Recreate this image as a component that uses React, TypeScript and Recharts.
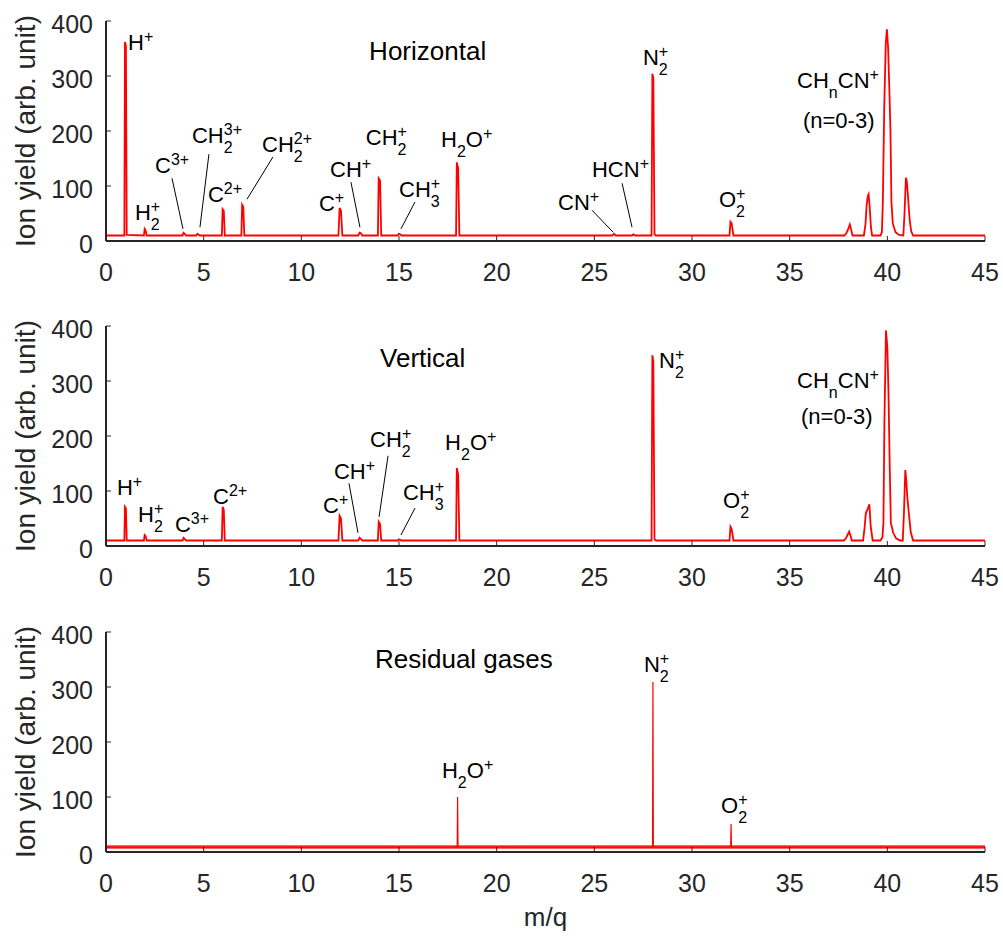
import React from 'react'
import { LineChart, Line, XAxis, YAxis, ReferenceDot, ReferenceLine } from 'recharts'

// m/q axis and ion-yield axis ticks
const xTicks = [0, 5, 10, 15, 20, 25, 30, 35, 40, 45]
const yTicks = [0, 100, 200, 300, 400]

// [m/q, ion yield]
const horizontalSpectrum: [number, number][] = [
  [0, 10], [0.94, 10], [0.97, 362], [1.02, 355], [1.06, 11], [1.94, 10], [1.98, 22], [2.03, 19], [2.08, 10],
  [3.92, 10], [3.97, 15], [4.03, 13], [4.1, 10], [4.62, 10], [4.68, 13], [4.75, 11], [4.82, 10],
  [5.93, 10], [5.97, 58], [6.03, 55], [6.08, 10], [6.93, 10], [6.97, 66], [7.03, 62], [7.08, 10],
  [11.9, 10], [11.96, 60], [12.03, 55], [12.1, 10], [12.92, 10], [12.98, 15], [13.05, 14], [13.12, 10],
  [13.92, 10], [13.96, 114], [14.03, 110], [14.09, 10], [14.93, 10], [14.99, 13], [15.06, 12], [15.13, 10],
  [17.92, 10], [17.96, 143], [18.03, 132], [18.09, 10], [25.92, 10], [26.0, 13], [26.1, 10],
  [26.92, 10], [27.0, 12], [27.1, 10], [27.93, 10], [27.97, 304], [28.02, 296], [28.08, 12], [28.15, 10],
  [31.92, 10], [31.97, 35], [32.03, 32], [32.12, 10],
  [37.8, 10], [37.9, 14], [38.0, 22], [38.08, 30], [38.14, 22], [38.22, 10],
  [38.8, 10], [38.88, 30], [38.94, 65], [39.0, 82], [39.04, 85], [39.1, 60], [39.16, 25], [39.22, 10],
  [39.65, 10], [39.72, 16], [39.77, 70], [39.84, 240], [39.92, 360], [39.98, 385], [40.04, 350], [40.1, 280],
  [40.16, 200], [40.21, 70], [40.28, 32], [40.42, 16], [40.6, 11],
  [40.82, 10], [40.88, 50], [40.95, 115], [41.0, 108], [41.06, 80], [41.14, 40], [41.22, 18], [41.32, 10],
  [45, 10],
]

const verticalSpectrum: [number, number][] = [
  [0, 10], [0.94, 10], [0.97, 71], [1.02, 68], [1.06, 10], [1.94, 10], [1.98, 20], [2.03, 18], [2.08, 10],
  [3.92, 10], [3.97, 15], [4.03, 13], [4.1, 10],
  [5.93, 10], [5.97, 71], [6.03, 66], [6.08, 10],
  [11.9, 10], [11.96, 55], [12.03, 50], [12.1, 10], [12.92, 10], [12.98, 15], [13.05, 13], [13.12, 10],
  [13.92, 10], [13.96, 44], [14.03, 40], [14.09, 10], [14.93, 10], [14.99, 12], [15.06, 11], [15.13, 10],
  [17.92, 10], [17.96, 142], [18.03, 130], [18.09, 10],
  [27.93, 10], [27.97, 347], [28.02, 335], [28.08, 12], [28.15, 10],
  [31.92, 10], [31.97, 35], [32.03, 31], [32.12, 10],
  [37.78, 10], [37.88, 14], [37.96, 20], [38.05, 26], [38.12, 18], [38.18, 10],
  [38.76, 10], [38.84, 35], [38.9, 60], [38.98, 66], [39.04, 72], [39.08, 76], [39.15, 35], [39.25, 10],
  [39.65, 10], [39.75, 16], [39.8, 42], [39.85, 224], [39.93, 392], [40.0, 362], [40.06, 278], [40.12, 150],
  [40.18, 42], [40.3, 24], [40.45, 14], [40.65, 10],
  [40.79, 10], [40.85, 60], [40.92, 138], [40.97, 120], [41.02, 90], [41.1, 60], [41.2, 25], [41.32, 10],
  [45, 10],
]

const residualSpectrum: [number, number][] = [
  [0, 9], [17.98, 9], [18.0, 100], [18.02, 9], [27.98, 9], [28.0, 309], [28.02, 9],
  [31.98, 9], [32.0, 51], [32.02, 9], [45, 9],
]
const residualBaseline = 9

type Part = string | { sub?: string; sup?: string }
type Note = { x: number; y: number; parts: Part[] }
type Leader = { x1: number; y1: number; x2: number; y2: number }

const horizontalNotes: Note[] = [
  { x: 1.13, y: 347, parts: ['H', { sup: '+' }] },
  { x: 1.48, y: 38, parts: ['H', { sub: '2', sup: '+' }] },
  { x: 2.51, y: 124, parts: ['C', { sup: '3+' }] },
  { x: 4.4, y: 178, parts: ['CH', { sub: '2', sup: '3+' }] },
  { x: 5.22, y: 71, parts: ['C', { sup: '2+' }] },
  { x: 7.99, y: 162, parts: ['CH', { sub: '2', sup: '2+' }] },
  { x: 10.9, y: 55, parts: ['C', { sup: '+' }] },
  { x: 11.47, y: 116, parts: ['CH', { sup: '+' }] },
  { x: 13.3, y: 175, parts: ['CH', { sub: '2', sup: '+' }] },
  { x: 15.0, y: 80, parts: ['CH', { sub: '3', sup: '+' }] },
  { x: 17.15, y: 171, parts: ['H', { sub: '2' }, 'O', { sup: '+' }] },
  { x: 23.14, y: 56, parts: ['CN', { sup: '+' }] },
  { x: 24.88, y: 116, parts: ['HCN', { sup: '+' }] },
  { x: 27.49, y: 320, parts: ['N', { sub: '2', sup: '+' }] },
  { x: 31.38, y: 62, parts: ['O', { sub: '2', sup: '+' }] },
  { x: 35.38, y: 278, parts: ['CH', { sub: 'n' }, 'CN', { sup: '+' }] },
  { x: 35.68, y: 205, parts: ['(n=0-3)'] },
]
const horizontalLeaders: Leader[] = [
  { x1: 3.38, y1: 114, x2: 3.94, y2: 22 },
  { x1: 5.27, y1: 158, x2: 4.81, y2: 25 },
  { x1: 8.55, y1: 153, x2: 7.22, y2: 76 },
  { x1: 12.54, y1: 107, x2: 13.0, y2: 25 },
  { x1: 15.82, y1: 71, x2: 15.1, y2: 22 },
  { x1: 24.88, y1: 56, x2: 25.96, y2: 16 },
  { x1: 26.42, y1: 105, x2: 26.93, y2: 25 },
]

const verticalNotes: Note[] = [
  { x: 0.56, y: 93, parts: ['H', { sup: '+' }] },
  { x: 1.64, y: 44, parts: ['H', { sub: '2', sup: '+' }] },
  { x: 3.53, y: 25, parts: ['C', { sup: '3+' }] },
  { x: 5.48, y: 76, parts: ['C', { sup: '2+' }] },
  { x: 11.11, y: 60, parts: ['C', { sup: '+' }] },
  { x: 11.67, y: 122, parts: ['CH', { sup: '+' }] },
  { x: 13.52, y: 180, parts: ['CH', { sub: '2', sup: '+' }] },
  { x: 15.2, y: 84, parts: ['CH', { sub: '3', sup: '+' }] },
  { x: 17.36, y: 175, parts: ['H', { sub: '2' }, 'O', { sup: '+' }] },
  { x: 28.31, y: 324, parts: ['N', { sub: '2', sup: '+' }] },
  { x: 31.59, y: 69, parts: ['O', { sub: '2', sup: '+' }] },
  { x: 35.38, y: 287, parts: ['CH', { sub: 'n' }, 'CN', { sup: '+' }] },
  { x: 35.58, y: 222, parts: ['(n=0-3)'] },
]
const verticalLeaders: Leader[] = [
  { x1: 12.44, y1: 114, x2: 12.9, y2: 24 },
  { x1: 14.44, y1: 164, x2: 13.98, y2: 53 },
  { x1: 15.82, y1: 69, x2: 15.1, y2: 20 },
]

const residualNotes: Note[] = [
  { x: 17.2, y: 134, parts: ['H', { sub: '2' }, 'O', { sup: '+' }] },
  { x: 27.54, y: 327, parts: ['N', { sub: '2', sup: '+' }] },
  { x: 31.49, y: 71, parts: ['O', { sub: '2', sup: '+' }] },
]

const FONT = "'Liberation Sans', Arial, sans-serif"
const AXIS = '#262626'
const RED = '#ff0000'
const TICK_LEN = 5

function IonText({ cx, cy, parts, size = 22 }: { cx: number; cy: number; parts: Part[]; size?: number }) {
  const small = 16
  const subShift = 10
  const supShift = -8
  let shift = 0
  const spans: React.ReactNode[] = []
  parts.forEach((p, i) => {
    if (typeof p === 'string') {
      spans.push(<tspan key={i} fontSize={size} dy={-shift}>{p}</tspan>)
      shift = 0
    } else {
      if (p.sub) {
        spans.push(<tspan key={i + 'b'} fontSize={small} dy={subShift - shift}>{p.sub}</tspan>)
        shift = subShift
      }
      if (p.sup) {
        const dx = p.sub ? -p.sub.length * small * 0.556 : 0
        spans.push(<tspan key={i + 'p'} fontSize={small} dx={dx} dy={supShift - shift}>{p.sup}</tspan>)
        shift = supShift
      }
    }
  })
  return (
    <text x={cx} y={cy} fontFamily={FONT} fill="#000">
      {spans}
    </text>
  )
}

const BottomTick = (props: any) => {
  const { x, y, payload } = props
  return (
    <g>
      <line x1={x} y1={y} x2={x} y2={y - TICK_LEN} stroke={AXIS} strokeWidth={1} />
      <text x={x} y={y + 40} textAnchor="middle" fontSize={25} fontFamily={FONT} fill={AXIS}>
        {payload.value}
      </text>
    </g>
  )
}
const TopTick = (props: any) => (
  <line x1={props.x} y1={props.y} x2={props.x} y2={props.y + TICK_LEN} stroke={AXIS} strokeWidth={1} />
)
const LeftTick = (props: any) => {
  const { x, y, payload } = props
  return (
    <g>
      <line x1={x} y1={y} x2={x + TICK_LEN} y2={y} stroke={AXIS} strokeWidth={1} />
      <text x={x - 13} y={y + 12} textAnchor="end" fontSize={25} fontFamily={FONT} fill={AXIS}>
        {payload.value}
      </text>
    </g>
  )
}
const RightTick = (props: any) => (
  <line x1={props.x} y1={props.y} x2={props.x - TICK_LEN} y2={props.y} stroke={AXIS} strokeWidth={1} />
)

const yLabel = (props: any) => {
  const vb = props.viewBox
  return (
    <text
      transform={`translate(25, ${vb.y + vb.height / 2}) rotate(-90)`}
      textAnchor="middle"
      dominantBaseline="central"
      fontSize={28}
      fontFamily={FONT}
      fill={AXIS}
    >
      Ion yield (arb. unit)
    </text>
  )
}
const xLabel = (props: any) => {
  const vb = props.viewBox
  return (
    <text x={vb.x + vb.width / 2} y={vb.y + 74} textAnchor="middle" fontSize={26} fontFamily={FONT} fill={AXIS}>
      m/q
    </text>
  )
}

function Panel({
  spectrum,
  title,
  titleAt,
  notes,
  leaders,
  top,
  last,
}: {
  spectrum: [number, number][]
  title: string
  titleAt: [number, number]
  notes: Note[]
  leaders: Leader[]
  top: number
  last?: boolean
}) {
  const data = spectrum.map(([mz, y]) => ({ mz, y }))
  const height = last ? 330 : 305
  const xAxisHeight = last ? 64 : 40
  return (
    <div style={{ position: 'absolute', left: 0, top }}>
      <LineChart
        width={1003}
        height={height}
        data={data}
        margin={{ top: 21, right: 18, left: 0, bottom: height - 241 - xAxisHeight }}
      >
        <XAxis
          dataKey="mz"
          type="number"
          domain={[0, 45]}
          ticks={xTicks}
          interval={0}
          height={xAxisHeight}
          tickSize={0}
          tickMargin={0}
          tickLine={false}
          tick={<BottomTick />}
          axisLine={{ stroke: AXIS, strokeWidth: 2 }}
          label={last ? xLabel : undefined}
        />
        <XAxis
          xAxisId="top"
          orientation="top"
          dataKey="mz"
          type="number"
          domain={[0, 45]}
          ticks={xTicks}
          interval={0}
          height={0}
          tickSize={0}
          tickMargin={0}
          tickLine={false}
          tick={<TopTick />}
          axisLine={{ stroke: AXIS, strokeWidth: 2 }}
        />
        <YAxis
          type="number"
          domain={[0, 400]}
          ticks={yTicks}
          interval={0}
          width={106}
          tickSize={0}
          tickMargin={0}
          tickLine={false}
          tick={<LeftTick />}
          axisLine={{ stroke: AXIS, strokeWidth: 2 }}
          label={yLabel}
        />
        <YAxis
          yAxisId="right"
          orientation="right"
          type="number"
          domain={[0, 400]}
          ticks={yTicks}
          interval={0}
          width={0}
          tickSize={0}
          tickMargin={0}
          tickLine={false}
          tick={<RightTick />}
          axisLine={{ stroke: AXIS, strokeWidth: 2 }}
        />
        {last && (
          <ReferenceLine y={residualBaseline} stroke={RED} strokeOpacity={0.8} strokeWidth={3.5} />
        )}
        <Line
          type="linear"
          dataKey="y"
          stroke={RED}
          strokeWidth={last ? 1.2 : 1.8}
          dot={false}
          isAnimationActive={false}
        />
        {leaders.map((l, i) => (
          <ReferenceLine
            key={'l' + i}
            segment={[
              { x: l.x1, y: l.y1 },
              { x: l.x2, y: l.y2 },
            ]}
            stroke="#000"
            strokeWidth={1}
          />
        ))}
        <ReferenceDot
          x={titleAt[0]}
          y={titleAt[1]}
          r={0}
          shape={(p: any) => <IonText cx={p.cx} cy={p.cy} parts={[title]} size={26} />}
        />
        {notes.map((n, i) => (
          <ReferenceDot
            key={'n' + i}
            x={n.x}
            y={n.y}
            r={0}
            shape={(p: any) => <IonText cx={p.cx} cy={p.cy} parts={n.parts} />}
          />
        ))}
      </LineChart>
    </div>
  )
}

export default function App() {
  return (
    <div style={{ position: 'absolute', left: 0, top: 0, width: 1003, height: 936, background: '#fff' }}>
      <Panel
        spectrum={horizontalSpectrum}
        title="Horizontal"
        titleAt={[13.47, 329]}
        notes={horizontalNotes}
        leaders={horizontalLeaders}
        top={0}
      />
      <Panel
        spectrum={verticalSpectrum}
        title="Vertical"
        titleAt={[14.03, 325]}
        notes={verticalNotes}
        leaders={verticalLeaders}
        top={305}
      />
      <Panel
        spectrum={residualSpectrum}
        title="Residual gases"
        titleAt={[13.77, 335]}
        notes={residualNotes}
        leaders={[]}
        top={611}
        last
      />
    </div>
  )
}
